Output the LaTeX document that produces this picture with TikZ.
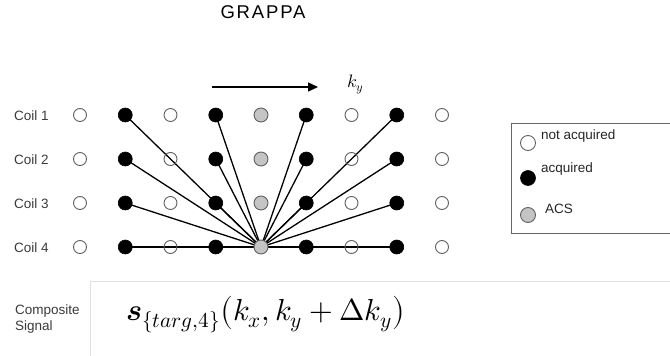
\documentclass[tikz,border=0pt]{standalone}
\usepackage{fontspec}
\usepackage{unicode-math}
\setmainfont{Liberation Sans}
\usetikzlibrary{arrows.meta,backgrounds}
\definecolor{dotgray}{HTML}{606060}
\definecolor{acsgray}{HTML}{C4C4C4}
\definecolor{labelgray}{HTML}{3A3A3A}
\definecolor{boxgray}{HTML}{E0E0E0}
\definecolor{legendgray}{HTML}{666666}
\tikzset{
  opendot/.style={circle, draw=dotgray, line width=0.9pt, minimum size=13pt, inner sep=0pt},
  fulldot/.style={circle, draw=black, fill=black, line width=0.6pt, minimum size=14pt, inner sep=0pt},
  acsdot/.style={circle, draw=dotgray, fill=acsgray, line width=0.9pt, minimum size=14pt, inner sep=0pt},
  link/.style={line width=1.3pt, black},
  lbl/.style={font=\fontsize{13.5}{16}\selectfont, text=labelgray, inner sep=0pt},
  leglbl/.style={font=\fontsize{13.5}{16}\selectfont, text=black!85, inner sep=0pt}
}
\begin{document}
\begin{tikzpicture}[x=1pt,y=-1pt]
\useasboundingbox (0,0) rectangle (670,356);
% title
\node[inner sep=0pt, anchor=base] (title) at (263,18.5) {\fontsize{18.5}{20}\selectfont\addfontfeature{LetterSpace=10}GRAPPA};
% ky arrow
\coordinate (arrS) at (212,87);
\coordinate (arrE) at (318,87);
\draw[line width=1.4pt, -{Triangle[length=10pt,width=9pt]}] (arrS) -- (arrE);
\node[inner sep=0pt, anchor=base west] (ky) at (347,87) {\fontsize{18}{20}\selectfont $k_y$};
% coil labels
\foreach \r/\y in {1/115,2/159,3/203,4/247}{
  \node[lbl, anchor=base west] (coil\r) at (14,\y+5) {Coil \r};
}
% grid of samples
\foreach \r/\y in {1/115,2/159,3/203,4/247}{
  \foreach \c/\t in {1/opendot,2/fulldot,3/opendot,4/fulldot,5/acsdot,6/fulldot,7/opendot,8/fulldot,9/opendot}{
    \node[\t] (d-\r-\c) at ({80+45.25*(\c-1)},\y) {};
  }
}
% connectors to target
\begin{scope}[on background layer]
  \foreach \r in {1,2,3}{
    \foreach \c in {2,4,6,8}{
      \draw[link] (d-\r-\c.center) -- (d-4-5.center);
    }
  }
  \draw[link] (d-4-2.center) -- (d-4-5.center);
  \draw[link] (d-4-8.center) -- (d-4-5.center);
\end{scope}
% legend
\draw[legendgray, line width=1pt] (670,123) -- (511,123) -- (511,233) -- (670,233);
\node[opendot, minimum size=15pt] (lg1) at (528,143) {};
\node[fulldot, minimum size=15pt] (lg2) at (528,178) {};
\node[acsdot, minimum size=15pt] (lg3) at (528,215) {};
\node[leglbl, anchor=base west] (lt1) at (541,139) {not acquired};
\node[leglbl, anchor=base west] (lt2) at (541,172) {acquired};
\node[leglbl, anchor=base west] (lt3) at (545,213) {ACS};
% composite signal
\draw[boxgray, line width=0.8pt] (670,281) -- (90,281) -- (90,356);
\node[lbl, anchor=base west] (comp1) at (15,314) {Composite};
\node[lbl, anchor=base west] (comp2) at (15,330) {Signal};
\node[inner sep=0pt, anchor=base west] (sig) at (126,320) {\fontsize{30.4}{34}\selectfont $\symbfit{s}_{\{targ,4\}}\bigl(k_x,k_y+\Delta k_y\bigr)$};
\end{tikzpicture}
\end{document}
